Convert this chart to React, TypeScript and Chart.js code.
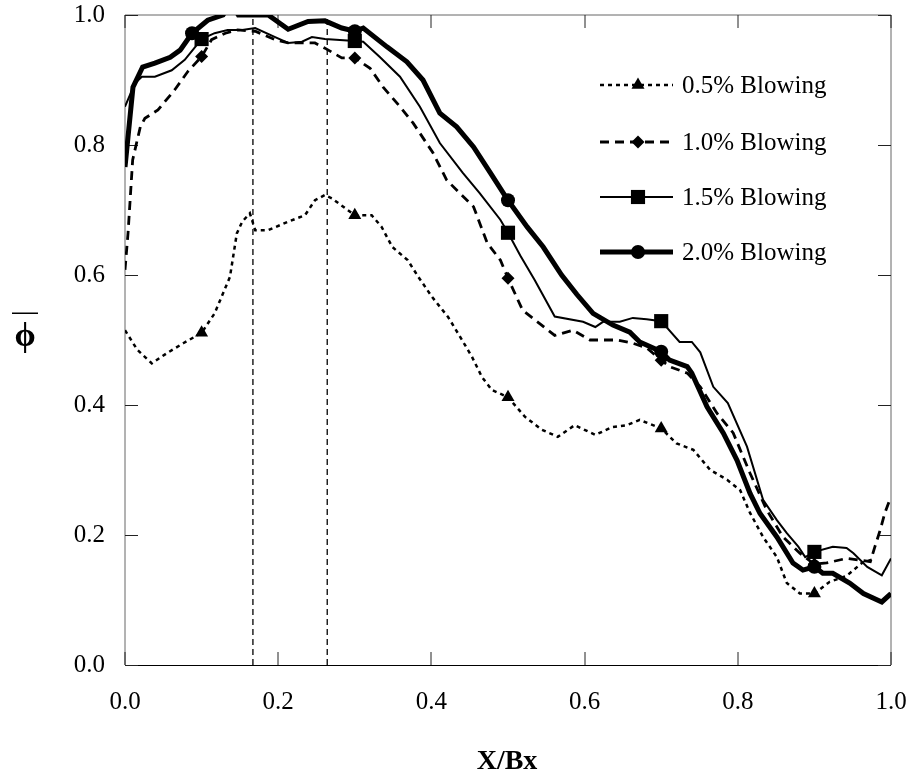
import React, { useEffect, useRef } from "react";
import { Chart, registerables } from "chart.js";

Chart.register(...registerables);

const X_TICKS = [0, 0.2, 0.4, 0.6, 0.8, 1.0];
const Y_TICKS = [0, 0.2, 0.4, 0.6, 0.8, 1.0];
const SERIES_LABELS = ["0.5% Blowing", "1.0% Blowing", "1.5% Blowing", "2.0% Blowing"];
const X_TITLE = "X/Bx";
const Y_TITLE = "\u03D5";

// 0.5% blowing (dotted, triangles)
const X_05 = [0, 0.016, 0.035, 0.055, 0.076, 0.1, 0.117, 0.137, 0.146, 0.153, 0.163, 0.17, 0.187, 0.213, 0.235, 0.248, 0.261, 0.27, 0.3, 0.322, 0.335, 0.349, 0.369, 0.383, 0.401, 0.422, 0.44, 0.453, 0.466, 0.479, 0.5, 0.522, 0.544, 0.565, 0.587, 0.614, 0.636, 0.655, 0.672, 0.7, 0.72, 0.742, 0.764, 0.786, 0.803, 0.816, 0.833, 0.851, 0.864, 0.881, 0.9, 0.92, 0.942, 0.962, 0.975];
const Y_05 = [0.515, 0.485, 0.464, 0.48, 0.495, 0.511, 0.541, 0.597, 0.664, 0.682, 0.695, 0.669, 0.669, 0.682, 0.692, 0.715, 0.723, 0.718, 0.692, 0.692, 0.674, 0.643, 0.623, 0.597, 0.566, 0.535, 0.5, 0.474, 0.443, 0.423, 0.412, 0.382, 0.362, 0.351, 0.369, 0.354, 0.366, 0.369, 0.377, 0.364, 0.341, 0.331, 0.3, 0.285, 0.269, 0.234, 0.197, 0.166, 0.126, 0.11, 0.11, 0.128, 0.137, 0.157, 0.162];
const MARK_05 = [0.1, 0.3, 0.5, 0.7, 0.9];

// 1.0% blowing (dashed, diamonds)
const X_10 = [0, 0.004, 0.01, 0.02, 0.026, 0.043, 0.065, 0.082, 0.1, 0.113, 0.131, 0.147, 0.17, 0.196, 0.213, 0.248, 0.261, 0.283, 0.3, 0.32, 0.337, 0.359, 0.376, 0.402, 0.42, 0.437, 0.455, 0.473, 0.49, 0.5, 0.519, 0.535, 0.561, 0.585, 0.607, 0.642, 0.663, 0.681, 0.7, 0.711, 0.734, 0.751, 0.773, 0.794, 0.816, 0.838, 0.859, 0.881, 0.9, 0.916, 0.942, 0.973, 0.979, 0.986, 0.992, 1.0];
const Y_10 = [0.608, 0.665, 0.777, 0.828, 0.841, 0.854, 0.885, 0.913, 0.936, 0.962, 0.972, 0.977, 0.975, 0.962, 0.957, 0.957, 0.949, 0.934, 0.934, 0.918, 0.889, 0.859, 0.834, 0.788, 0.746, 0.726, 0.705, 0.649, 0.623, 0.595, 0.546, 0.531, 0.507, 0.515, 0.5, 0.5, 0.495, 0.488, 0.469, 0.459, 0.449, 0.428, 0.387, 0.357, 0.295, 0.238, 0.197, 0.172, 0.155, 0.157, 0.164, 0.159, 0.182, 0.208, 0.234, 0.259];
const MARK_10 = [0.1, 0.3, 0.5, 0.7, 0.9];

// 1.5% blowing (thin solid, squares)
const X_15 = [0, 0.013, 0.022, 0.039, 0.061, 0.078, 0.1, 0.117, 0.134, 0.153, 0.17, 0.196, 0.213, 0.231, 0.244, 0.261, 0.3, 0.311, 0.333, 0.359, 0.385, 0.411, 0.441, 0.463, 0.49, 0.5, 0.516, 0.535, 0.561, 0.598, 0.614, 0.624, 0.646, 0.663, 0.681, 0.7, 0.724, 0.74, 0.751, 0.768, 0.787, 0.812, 0.833, 0.851, 0.864, 0.879, 0.888, 0.9, 0.924, 0.942, 0.951, 0.969, 0.988, 1.0];
const Y_15 = [0.859, 0.895, 0.905, 0.905, 0.915, 0.931, 0.963, 0.972, 0.977, 0.977, 0.98, 0.966, 0.957, 0.959, 0.966, 0.963, 0.96, 0.959, 0.935, 0.905, 0.859, 0.803, 0.757, 0.726, 0.685, 0.665, 0.63, 0.592, 0.536, 0.528, 0.52, 0.528, 0.528, 0.534, 0.532, 0.529, 0.497, 0.497, 0.481, 0.428, 0.403, 0.336, 0.254, 0.223, 0.203, 0.182, 0.166, 0.174, 0.182, 0.18, 0.172, 0.151, 0.138, 0.164];
const MARK_15 = [0.1, 0.3, 0.5, 0.7, 0.9];

// 2.0% blowing (thick solid, circles)
const X_20 = [0, 0.0104, 0.023, 0.039, 0.059, 0.072, 0.0875, 0.108, 0.128, 0.138, 0.148, 0.187, 0.213, 0.239, 0.261, 0.283, 0.3, 0.311, 0.342, 0.368, 0.389, 0.411, 0.433, 0.455, 0.477, 0.5, 0.525, 0.546, 0.57, 0.59, 0.611, 0.637, 0.659, 0.672, 0.7, 0.711, 0.734, 0.74, 0.76, 0.781, 0.799, 0.816, 0.829, 0.851, 0.872, 0.885, 0.9, 0.911, 0.924, 0.946, 0.964, 0.988, 1.0];
const Y_20 = [0.766, 0.889, 0.92, 0.926, 0.935, 0.946, 0.972, 0.992, 1.0, 1.02, 1.0, 1.0, 0.978, 0.99, 0.991, 0.98, 0.975, 0.98, 0.951, 0.928, 0.9, 0.849, 0.828, 0.797, 0.757, 0.715, 0.674, 0.643, 0.6, 0.57, 0.541, 0.523, 0.512, 0.497, 0.482, 0.469, 0.459, 0.449, 0.397, 0.357, 0.315, 0.264, 0.233, 0.197, 0.157, 0.146, 0.151, 0.141, 0.141, 0.126, 0.11, 0.097, 0.11];
const MARK_20 = [0.0875, 0.3, 0.5, 0.7, 0.9];

// vertical reference lines
const GUIDE_X = [0.167, 0.264];

const FONT = "'Liberation Serif', 'Times New Roman', serif";

type Style = { width: number; dash: number[]; point: string; radius: number };
const STYLES: Style[] = [
  { width: 2.5, dash: [4, 4], point: "triangle", radius: 7.5 },
  { width: 2.8, dash: [9, 6], point: "rectRot", radius: 6.5 },
  { width: 2, dash: [], point: "rect", radius: 10 },
  { width: 5, dash: [], point: "circle", radius: 7 },
];

function drawMarker(ctx: CanvasRenderingContext2D, style: string, x: number, y: number, r: number) {
  ctx.beginPath();
  if (style === "triangle") {
    ctx.moveTo(x, y - r);
    ctx.lineTo(x + r * Math.sin((2 * Math.PI) / 3), y - r * Math.cos((2 * Math.PI) / 3));
    ctx.lineTo(x + r * Math.sin((4 * Math.PI) / 3), y - r * Math.cos((4 * Math.PI) / 3));
    ctx.closePath();
  } else if (style === "rectRot") {
    ctx.moveTo(x, y - r);
    ctx.lineTo(x + r, y);
    ctx.lineTo(x, y + r);
    ctx.lineTo(x - r, y);
    ctx.closePath();
  } else if (style === "rect") {
    const s = r * Math.SQRT1_2;
    ctx.rect(x - s, y - s, 2 * s, 2 * s);
  } else {
    ctx.arc(x, y, r, 0, Math.PI * 2);
  }
  ctx.fill();
}

const framePlugin = {
  id: "frame",
  beforeDatasetsDraw(chart: any) {
    const { ctx, chartArea } = chart;
    const { left, right, top, bottom } = chartArea;
    const xs = chart.scales.x;
    const ys = chart.scales.y;
    const tl = 13;
    ctx.save();
    ctx.setTransform(1, 0, 0, 1, 0, 0);
    ctx.lineWidth = 1;
    ctx.strokeStyle = "#666";
    ctx.beginPath();
    ctx.moveTo(left, bottom);
    ctx.lineTo(left, top);
    ctx.lineTo(right, top);
    ctx.lineTo(right, bottom);
    ctx.stroke();
    ctx.strokeStyle = "#000";
    ctx.beginPath();
    ctx.moveTo(left, bottom + 0.5);
    ctx.lineTo(right, bottom + 0.5);
    ctx.stroke();
    ctx.strokeStyle = "#222";
    ctx.beginPath();
    X_TICKS.forEach((v) => {
      const px = Math.round(xs.getPixelForValue(v));
      ctx.moveTo(px, bottom);
      ctx.lineTo(px, bottom - tl);
      ctx.moveTo(px, top);
      ctx.lineTo(px, top + tl);
    });
    Y_TICKS.forEach((v) => {
      const py = Math.round(ys.getPixelForValue(v)) + 0.5;
      ctx.moveTo(left, py);
      ctx.lineTo(left + tl, py);
      ctx.moveTo(right, py);
      ctx.lineTo(right - tl, py);
    });
    ctx.stroke();
    ctx.restore();
  },
  afterDraw(chart: any) {
    const { ctx } = chart;
    ctx.save();
    ctx.setTransform(1, 0, 0, 1, 0, 0);
    // legend
    const rows = [85, 142, 197, 252];
    const x0 = 600;
    const x1 = 673;
    const mx = 638;
    SERIES_LABELS.forEach((label, i) => {
      const st = STYLES[i];
      const y = rows[i];
      ctx.strokeStyle = "#000";
      ctx.fillStyle = "#000";
      ctx.lineWidth = st.width;
      ctx.setLineDash(st.dash);
      ctx.beginPath();
      ctx.moveTo(x0, y);
      ctx.lineTo(x1, y);
      ctx.stroke();
      ctx.setLineDash([]);
      drawMarker(ctx, st.point, mx, y, st.radius);
      ctx.font = `25px ${FONT}`;
      ctx.textAlign = "left";
      ctx.textBaseline = "middle";
      ctx.fillText(label, 682, y + 1);
    });
    // axis titles
    ctx.setLineDash([]);
    ctx.fillStyle = "#000";
    ctx.font = `bold 28px ${FONT}`;
    ctx.textAlign = "center";
    ctx.textBaseline = "middle";
    ctx.fillText(X_TITLE, 507, 762);
    ctx.font = `bold 34px ${FONT}`;
    ctx.fillText(Y_TITLE, 25, 337);
    ctx.fillRect(12, 312.5, 26, 1.5);
    ctx.restore();
  },
};

function points(xs: number[], ys: number[]) {
  return xs.map((x, i) => ({ x, y: ys[i] }));
}

function radii(xs: number[], marks: number[], r: number) {
  return xs.map((x) => (marks.includes(x) ? r : 0));
}

function zeroPad(s: any) {
  s.paddingLeft = 0;
  s.paddingRight = 0;
  s.paddingTop = 0;
  s.paddingBottom = 0;
}

export default function App() {
  const ref = useRef<HTMLCanvasElement | null>(null);

  useEffect(() => {
    if (!ref.current) return;
    const series = [
      { xs: X_05, ys: Y_05, marks: MARK_05 },
      { xs: X_10, ys: Y_10, marks: MARK_10 },
      { xs: X_15, ys: Y_15, marks: MARK_15 },
      { xs: X_20, ys: Y_20, marks: MARK_20 },
    ];
    const datasets: any[] = series.map((s, i) => {
      const st = STYLES[i];
      return {
        label: SERIES_LABELS[i],
        data: points(s.xs, s.ys),
        borderColor: "#000",
        backgroundColor: "#000",
        borderWidth: st.width,
        borderDash: st.dash,
        tension: 0,
        pointStyle: st.point,
        pointRadius: radii(s.xs, s.marks, st.radius),
        pointHoverRadius: 0,
        pointBorderWidth: 0,
        pointBackgroundColor: "#000",
        fill: false,
      };
    });
    GUIDE_X.forEach((g) => {
      datasets.push({
        label: "guide",
        data: [
          { x: g, y: 0 },
          { x: g, y: 1 },
        ],
        borderColor: "#000",
        borderWidth: 1.3,
        borderDash: [6, 4],
        pointRadius: 0,
        pointHoverRadius: 0,
        fill: false,
      });
    });

    const chart = new Chart(ref.current, {
      type: "line",
      data: { datasets },
      options: {
        animation: false,
        responsive: false,
        events: [],
        layout: { padding: { left: 0, top: 15, right: 23, bottom: 0 } },
        plugins: { legend: { display: false }, tooltip: { enabled: false } },
        scales: {
          x: {
            type: "linear",
            min: 0,
            max: 1,
            afterFit: (s: any) => {
              s.height = 115;
              zeroPad(s);
            },
            afterBuildTicks: (s: any) => {
              s.ticks = X_TICKS.map((v) => ({ value: v }));
            },
            grid: { display: false, drawTicks: false },
            border: { display: false },
            ticks: {
              color: "#000",
              padding: 25,
              maxRotation: 0,
              font: { family: FONT, size: 25, lineHeight: 1 },
              callback: (v: any) => Number(v).toFixed(1),
            },
          },
          y: {
            type: "linear",
            min: 0,
            max: 1,
            afterFit: (s: any) => {
              s.width = 125;
              zeroPad(s);
            },
            afterBuildTicks: (s: any) => {
              s.ticks = Y_TICKS.map((v) => ({ value: v }));
            },
            grid: { display: false, drawTicks: false },
            border: { display: false },
            ticks: {
              color: "#000",
              padding: 20,
              font: { family: FONT, size: 25, lineHeight: 1 },
              callback: (v: any) => Number(v).toFixed(1),
            },
          },
        },
      },
      plugins: [framePlugin],
    });
    return () => chart.destroy();
  }, []);

  return (
    <div style={{ position: "absolute", left: 0, top: 0, width: 914, height: 780, background: "#fff" }}>
      <canvas ref={ref} width={914} height={780} style={{ display: "block" }} />
    </div>
  );
}
